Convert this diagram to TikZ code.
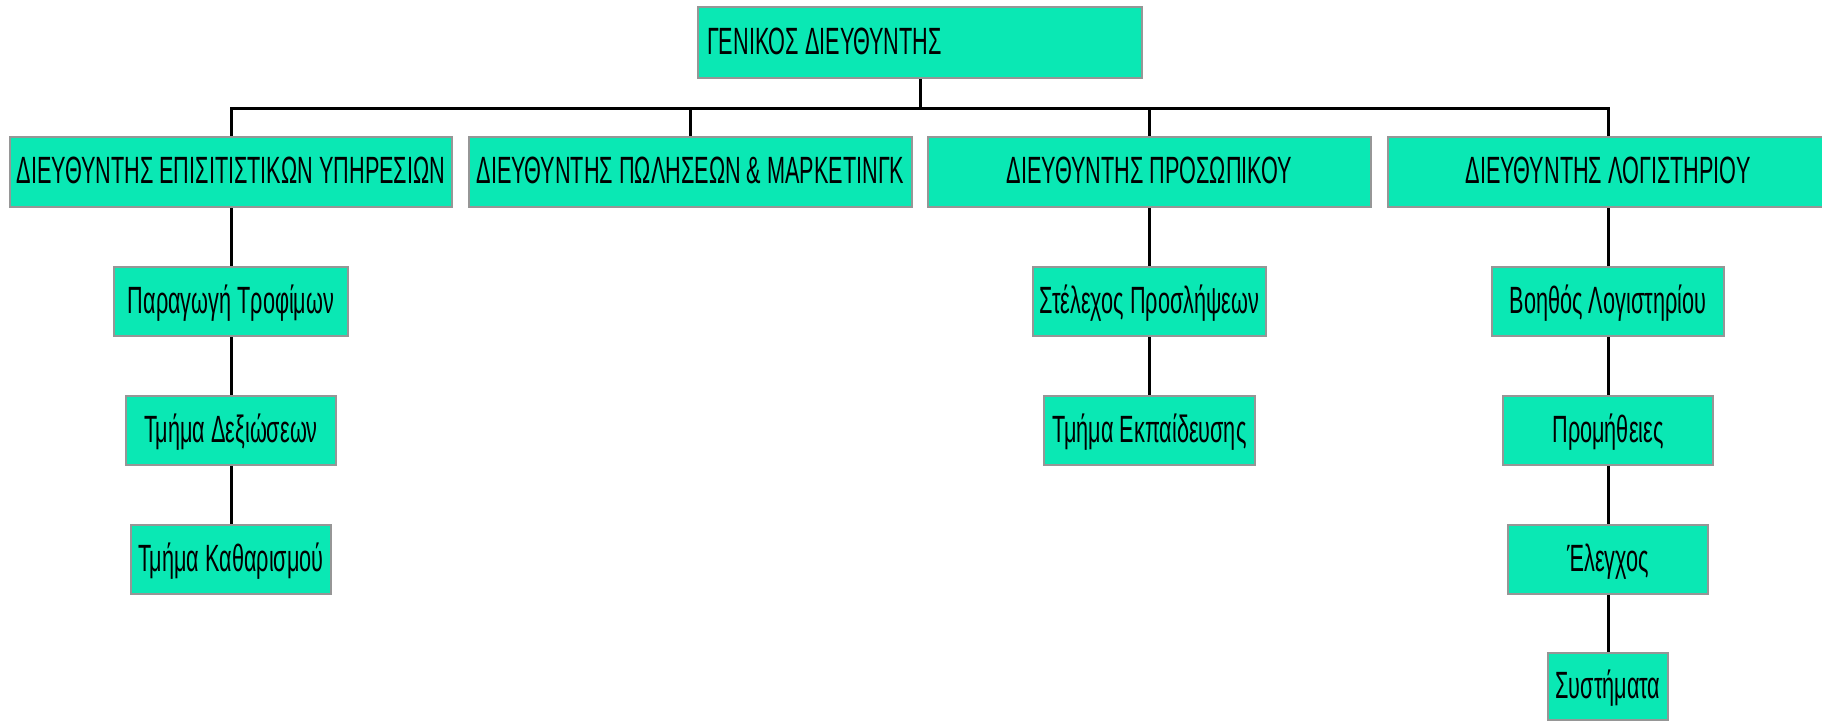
\documentclass[tikz,border=0pt]{standalone}
\usepackage{fontspec}
\setmainfont[FakeStretch=0.57]{Liberation Sans}
\definecolor{boxfill}{RGB}{10,232,180}
\definecolor{boxline}{RGB}{150,150,150}
\begin{document}
\begin{tikzpicture}[x=1pt,y=-1pt,
  orgbox/.style={draw=boxline, line width=2.7pt, fill=boxfill, inner sep=0pt,
    text height=28pt, text depth=5pt, font=\fontsize{38}{40}\selectfont},
  link/.style={line width=3pt, black}]
\useasboundingbox (0,0) rectangle (1822,723);
\newcommand\OrgBox[6]{\node[orgbox, minimum width={(#4)-(#2)}, minimum height={(#5)-(#3)}] (#1) at ({((#2)+(#4))/2},{((#3)+(#5))/2}) {#6};}
% top
\node[orgbox, minimum width=444, minimum height=71, inner xsep=9pt] (gm) at (920,42.5) {\makebox[426pt][l]{ΓΕΝΙΚΟΣ ΔΙΕΥΘΥΝΤΗΣ}};
% directors
\OrgBox{d1}{10}{137}{452}{207}{ΔΙΕΥΘΥΝΤΗΣ ΕΠΙΣΙΤΙΣΤΙΚΩΝ ΥΠΗΡΕΣΙΩΝ}
\OrgBox{d2}{469}{137}{912}{207}{ΔΙΕΥΘΥΝΤΗΣ ΠΩΛΗΣΕΩΝ \& ΜΑΡΚΕΤΙΝΓΚ}
\OrgBox{d3}{928}{137}{1371}{207}{ΔΙΕΥΘΥΝΤΗΣ ΠΡΟΣΩΠΙΚΟΥ}
\OrgBox{d4}{1388}{137}{1828}{207}{ΔΙΕΥΘΥΝΤΗΣ ΛΟΓΙΣΤΗΡΙΟΥ}
% column 1
\OrgBox{p1}{114}{267}{348}{336}{Παραγωγή Τροφίμων}
\OrgBox{p2}{126}{396}{336}{465}{Τμήμα Δεξιώσεων}
\OrgBox{p3}{131}{525}{331}{594}{Τμήμα Καθαρισμού}
% column 3
\OrgBox{s1}{1033}{267}{1266}{336}{Στέλεχος Προσλήψεων}
\OrgBox{s2}{1044}{396}{1255}{465}{Τμήμα Εκπαίδευσης}
% column 4
\OrgBox{b1}{1492}{267}{1724}{336}{Βοηθός Λογιστηρίου}
\OrgBox{b2}{1503}{396}{1713}{465}{Προμήθειες}
\OrgBox{b3}{1508}{525}{1708}{594}{Έλεγχος}
\OrgBox{b4}{1548}{653}{1668}{720}{Συστήματα}
% connectors
\coordinate (bus) at (920,108);
\draw[link] (gm.south) -- (bus);
\draw[link] (d1.north) -- (d1.north |- bus) -- (d4.north |- bus) -- (d4.north);
\draw[link] (d2.north) -- (d2.north |- bus);
\draw[link] (d3.north) -- (d3.north |- bus);
\draw[link] (d1) -- (p1);
\draw[link] (p1) -- (p2);
\draw[link] (p2) -- (p3);
\draw[link] (d3) -- (s1);
\draw[link] (s1) -- (s2);
\draw[link] (d4) -- (b1);
\draw[link] (b1) -- (b2);
\draw[link] (b2) -- (b3);
\draw[link] (b3) -- (b4);
\end{tikzpicture}
\end{document}
